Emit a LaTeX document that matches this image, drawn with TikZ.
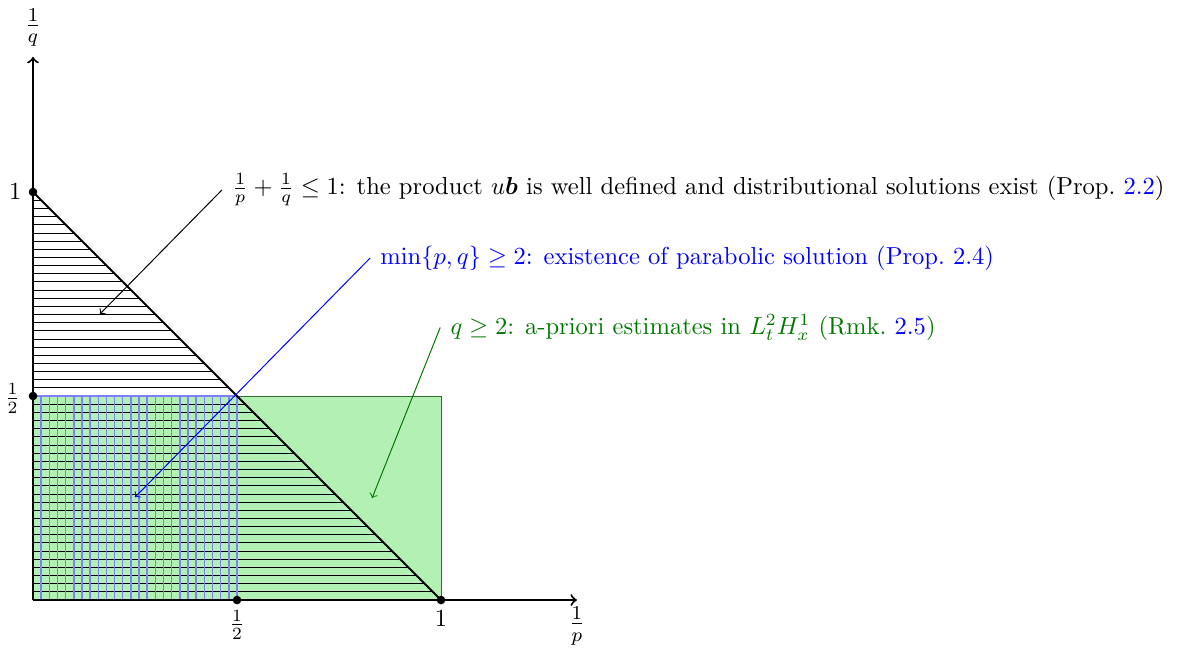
\documentclass[tikz,border=0pt]{standalone}
\usepackage{amsmath,amssymb,bm}
\definecolor{fillgreen}{RGB}{179,240,179}
\definecolor{dgreen}{RGB}{0,120,0}
\begin{document}
\begin{tikzpicture}[x=5.84cm,y=5.84cm,
  axis/.style={thick,->},
  tickdot/.style={circle,fill=black,inner sep=0pt,minimum size=3.5pt},
  hatch/.style={black,line width=0.4pt},
  vhatch/.style={blue!50,line width=0.6pt},
  note/.style={anchor=west,inner sep=4pt},
  ann/.style={->,line width=0.4pt}]
\useasboundingbox (-0.0809,-0.1348) rectangle (2.811,1.4706);
% green region
\fill[fillgreen] (0,0) rectangle (1,0.5);
\draw[green!30!black!80,line width=0.4pt] (0,0.5) -- (1,0.5) -- (1,0);
% black hatching
\foreach \y in {0.02,0.04,...,0.99} \draw[hatch] (0,\y) -- ({1-\y},\y);
% blue hatching
\foreach \x in {0.02,0.04,...,0.49} \draw[vhatch] (\x,0) -- (\x,0.5);
\draw[vhatch] (0,0.5) -- (0.5,0.5) -- (0.5,0);
% diagonal
\draw[thick] (0,1) -- (1,0);
% axes
\coordinate (O) at (0,0);
\coordinate (xe) at (1.333,0);
\coordinate (ye) at (0,1.331);
\draw[axis] (O) -- (xe);
\draw[axis] (O) -- (ye);
\node[anchor=north,inner sep=0pt] (xl) at ([yshift=-2.5pt]xe) {\large$\frac{1}{p}$};
\node[anchor=south,inner sep=0pt] (yl) at ([yshift=4pt]ye) {\large$\frac{1}{q}$};
% tick dots and labels
\node[tickdot] (y1) at (0,1) {};
\node[tickdot] (yh) at (0,0.5) {};
\node[tickdot] (xh) at (0.5,0) {};
\node[tickdot] (x1) at (1,0) {};
\node[anchor=east,inner sep=0pt] (ly1) at ([xshift=-4.5pt]y1.center) {$1$};
\node[anchor=east,inner sep=0pt] (lyh) at ([xshift=-5pt,yshift=-1pt]yh.center) {$\frac{1}{2}$};
\node[anchor=north,inner sep=0pt] (lxh) at ([yshift=-4pt]xh.center) {$\frac{1}{2}$};
\node[anchor=north,inner sep=0pt] (lx1) at ([yshift=-4pt]x1.center) {$1$};
% annotations
\node[note] (n1) at (0.463,1.005) {$\frac{1}{p}+\frac{1}{q}\leq 1$: the product $u\bm{b}$ is well defined and distributional solutions exist (Prop.~\textcolor{blue}{2.2})};
\coordinate (t1) at (0.164,0.701);
\draw[ann] (n1.west) -- (t1);
\node[note,text=blue] (n2) at (0.826,0.838) {$\min\{p,q\}\geq 2$: existence of parabolic solution (Prop.~2.4)};
\coordinate (t2) at (0.25,0.252);
\draw[ann,blue] (n2.west) -- (t2);
\node[note,text=dgreen] (n3) at (0.998,0.668) {$q\geq 2$: a-priori estimates in $L^2_tH^1_x$ (Rmk.~\textcolor{blue}{2.5})};
\coordinate (t3) at (0.831,0.25);
\draw[ann,dgreen] (n3.west) -- (t3);
\end{tikzpicture}
\end{document}
